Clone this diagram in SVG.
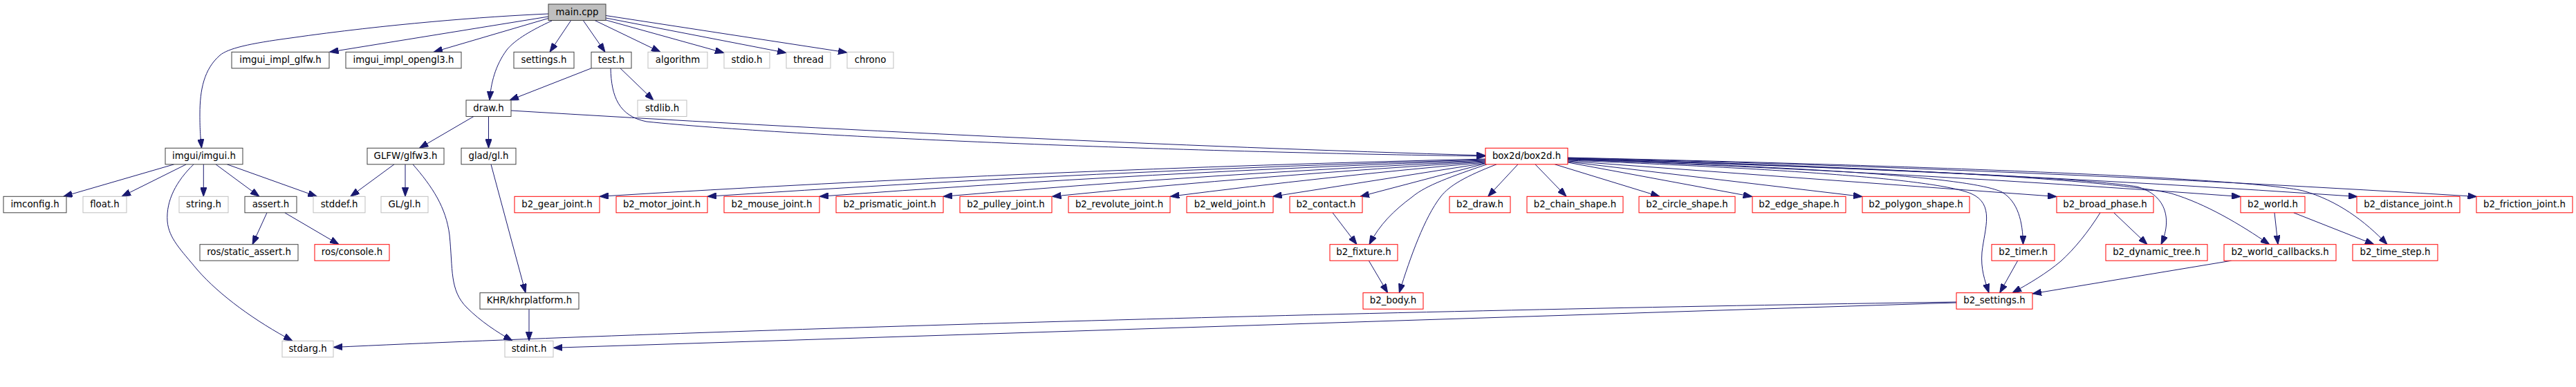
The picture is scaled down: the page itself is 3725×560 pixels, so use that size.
<svg xmlns="http://www.w3.org/2000/svg" width="3725" height="560" viewBox="0 0 3725 560">
<defs>
<style>
rect{fill:#ffffff;stroke:#404040;stroke-width:1}
.g rect{stroke:#bfbfbf}
.r rect{stroke:#ff0000}
.m rect{fill:#bfbfbf;stroke:#404040}
text{font-family:"DejaVu Sans","Liberation Sans",sans-serif;font-size:13.33px;text-anchor:middle;fill:#000000}
#edges path{fill:none;stroke:#191970;stroke-width:1;marker-end:url(#arr)}
</style>
<marker id="arr" viewBox="0 0 13 9.4" refX="13" refY="4.7" markerWidth="13" markerHeight="9.4" markerUnits="userSpaceOnUse" orient="auto">
<path d="M0,0 L13,4.7 L0,9.4 z" fill="#191970" stroke="#191970" stroke-width="1"/>
</marker>
</defs>
<rect x="0" y="0" width="3725" height="560" style="fill:#ffffff;stroke:none"/>
<g id="edges">
<path d="M793,20 C700,24 560,35 420,55 C360,63 330,70 318,80 C295,100 289,130 289,165 C289,190 290,200 291.5,214.3"/>
<path d="M793,24 L476.5,75.3"/>
<path d="M793,26.5 L627,75.3"/>
<path d="M798,30 C770,43 745,57 733,72 C716,95 710,120 708,145"/>
<path d="M825.7,29.5 L795,75.3"/>
<path d="M843.3,29.5 L875,75.3"/>
<path d="M860,29.5 L955,75.3"/>
<path d="M876,29 L1047,76.5"/>
<path d="M876,26 L1137,76.5"/>
<path d="M876,22.5 L1225,76"/>
<path d="M855,98.8 L737,145"/>
<path d="M897,98.8 L945,145"/>
<path d="M883,98.8 C884,140 895,168 935,176 C1150,198 1700,220 2148,226"/>
<path d="M739,160 C1200,188 1700,212 2148,225"/>
<path d="M685,168.5 L606.5,214.3"/>
<path d="M706.5,168.5 L706.5,214.3"/>
<path d="M251.7,237.8 L91.7,284.3"/>
<path d="M269.3,237.8 L176,284.3"/>
<path d="M294.3,237.8 L294.3,284.3"/>
<path d="M312,237.8 L375,284.3"/>
<path d="M328.3,237.8 L458.3,284.3"/>
<path d="M280,237.8 C255,262 240,290 242,320 C244,345 262,362 285,390 C318,428 370,465 423,493.3"/>
<path d="M386,307.8 L365,353.7"/>
<path d="M411.7,307.8 L490,353.7"/>
<path d="M570,237.8 L506.7,284.3"/>
<path d="M586,237.8 L586,284.3"/>
<path d="M597,237.8 C625,270 645,300 650,340 C655,390 650,420 675,445 C695,465 718,480 741,493.3"/>
<path d="M710,237.8 L760,423.7"/>
<path d="M765,447.2 L765,493.3"/>
<path d="M2829,437 C2000,449 1000,478 482.3,502.5"/>
<path d="M2829,438 L800.3,503.3"/>
<path d="M3226.7,377.2 L2939,425"/>
<path d="M2917.7,377.2 L2891.7,423.7"/>
<path d="M3037,307.8 C3020,335 3000,360 2980,378 C2960,395 2935,410 2910,423.7"/>
<path d="M3056.7,307.8 L3105,353.7"/>
<path d="M3289,307.8 L3294,353.7"/>
<path d="M3316.7,307.8 L3433,353.7"/>
<path d="M1927,307.8 L1962,353.7"/>
<path d="M1979.3,377.2 L2006.7,423.7"/>
<path d="M2148,230 C1721,240 1294,258 867,284.3"/>
<path d="M2148,231 C1773,241.7 1398,259.3 1023,284.3"/>
<path d="M2148,232 C1827,243.3 1506,260.7 1185,284.3"/>
<path d="M2148,233 C1886.7,245.1 1625.3,262.1 1364,284.3"/>
<path d="M2148,234 C1939.2,246.8 1730.3,263.4 1521.5,284.3"/>
<path d="M2148,235 C1996.1,248.5 1844.2,264.9 1692.3,284.3"/>
<path d="M2148,236 L1840.7,284.3"/>
<path d="M2148.3,236.5 L1967,284.3"/>
<path d="M2150,237.8 C2100,255 2062,268 2042,285 C2015,305 1995,325 1980,353.7"/>
<path d="M2164,237.8 C2120,255 2096,268 2083,285 C2060,315 2040,370 2023.3,423.7"/>
<path d="M2195,237.8 L2151.7,284.3"/>
<path d="M2220,237.8 L2265,284.3"/>
<path d="M2248.3,237.8 L2400,284.3"/>
<path d="M2267,235 L2533.7,284.5"/>
<path d="M2267,234 L2693,284.5"/>
<path d="M2267,233 L2974,284.5"/>
<path d="M2267,232 C2600,245 2800,260 2850,280 C2885,295 2870,330 2866,365 C2864,390 2870,405 2876,423.7"/>
<path d="M2267,231 C2600,241 2850,256 2895,278 C2918,292 2925,320 2925.5,353.7"/>
<path d="M2267,230 C2700,243 3000,256 3090,270 C3135,283 3140,320 3125,353.7"/>
<path d="M2267,229 C2700,241 3050,259 3140,280 C3190,295 3240,325 3281.7,353.7"/>
<path d="M2267,230.5 C2591,242.8 2915.7,260.7 3240,284.5"/>
<path d="M2267,229.5 C2648,240.6 3029,258.7 3409,284.5"/>
<path d="M2267,228.5 C2705,238.8 3143,257.3 3581.5,284.5"/>
<path d="M2267,228 C2800,240 3250,258 3330,276 C3380,290 3420,320 3452,353.7"/>
</g>
<g id="main_cpp" class="m"><rect x="793" y="6" width="83" height="23.5"/><text x="834.5" y="21.7">main.cpp</text></g>
<g id="imgui_impl_glfw_h"><rect x="335" y="75.3" width="141" height="23.5"/><text x="405.5" y="91">imgui_impl_glfw.h</text></g>
<g id="imgui_impl_opengl3_h"><rect x="500" y="75.3" width="167" height="23.5"/><text x="583.5" y="91">imgui_impl_opengl3.h</text></g>
<g id="settings_h"><rect x="743" y="75.3" width="87" height="23.5"/><text x="786.5" y="91">settings.h</text></g>
<g id="test_h"><rect x="855" y="75.3" width="58" height="23.5"/><text x="884" y="91">test.h</text></g>
<g id="algorithm" class="g"><rect x="937" y="75.3" width="86" height="23.5"/><text x="980" y="91">algorithm</text></g>
<g id="stdio_h" class="g"><rect x="1047" y="75.3" width="66" height="23.5"/><text x="1080" y="91">stdio.h</text></g>
<g id="thread" class="g"><rect x="1137" y="75.3" width="64" height="23.5"/><text x="1169" y="91">thread</text></g>
<g id="chrono" class="g"><rect x="1225" y="75.3" width="67" height="23.5"/><text x="1258.5" y="91">chrono</text></g>
<g id="draw_h"><rect x="674" y="145" width="65" height="23.5"/><text x="706.5" y="160.7">draw.h</text></g>
<g id="stdlib_h" class="g"><rect x="922" y="145" width="71" height="23.5"/><text x="957.5" y="160.7">stdlib.h</text></g>
<g id="imgui_imgui_h"><rect x="239" y="214.3" width="112" height="23.5"/><text x="295" y="230">imgui/imgui.h</text></g>
<g id="GLFW_glfw3_h"><rect x="531" y="214.3" width="111" height="23.5"/><text x="586.5" y="230">GLFW/glfw3.h</text></g>
<g id="glad_gl_h"><rect x="667" y="214.3" width="79" height="23.5"/><text x="706.5" y="230">glad/gl.h</text></g>
<g id="box2d_box2d_h" class="r"><rect x="2148" y="214.3" width="119" height="23.5"/><text x="2207.5" y="230">box2d/box2d.h</text></g>
<g id="imconfig_h"><rect x="5" y="284.3" width="91" height="23.5"/><text x="50.5" y="300">imconfig.h</text></g>
<g id="float_h" class="g"><rect x="120" y="284.3" width="63" height="23.5"/><text x="151.5" y="300">float.h</text></g>
<g id="string_h" class="g"><rect x="259" y="284.3" width="71" height="23.5"/><text x="294.5" y="300">string.h</text></g>
<g id="assert_h"><rect x="354" y="284.3" width="75" height="23.5"/><text x="391.5" y="300">assert.h</text></g>
<g id="stddef_h" class="g"><rect x="453" y="284.3" width="75" height="23.5"/><text x="490.5" y="300">stddef.h</text></g>
<g id="GL_gl_h" class="g"><rect x="551" y="284.3" width="68" height="23.5"/><text x="585" y="300">GL/gl.h</text></g>
<g id="b2_gear_joint_h" class="r"><rect x="744" y="284.3" width="123" height="23.5"/><text x="805.5" y="300">b2_gear_joint.h</text></g>
<g id="b2_motor_joint_h" class="r"><rect x="891" y="284.3" width="132" height="23.5"/><text x="957" y="300">b2_motor_joint.h</text></g>
<g id="b2_mouse_joint_h" class="r"><rect x="1047" y="284.3" width="138" height="23.5"/><text x="1116" y="300">b2_mouse_joint.h</text></g>
<g id="b2_prismatic_joint_h" class="r"><rect x="1209" y="284.3" width="155" height="23.5"/><text x="1286.5" y="300">b2_prismatic_joint.h</text></g>
<g id="b2_pulley_joint_h" class="r"><rect x="1388" y="284.3" width="133" height="23.5"/><text x="1454.5" y="300">b2_pulley_joint.h</text></g>
<g id="b2_revolute_joint_h" class="r"><rect x="1545" y="284.3" width="147" height="23.5"/><text x="1618.5" y="300">b2_revolute_joint.h</text></g>
<g id="b2_weld_joint_h" class="r"><rect x="1716" y="284.3" width="125" height="23.5"/><text x="1778.5" y="300">b2_weld_joint.h</text></g>
<g id="b2_contact_h" class="r"><rect x="1865" y="284.3" width="105" height="23.5"/><text x="1917.5" y="300">b2_contact.h</text></g>
<g id="b2_draw_h" class="r"><rect x="2096" y="284.3" width="88" height="23.5"/><text x="2140" y="300">b2_draw.h</text></g>
<g id="b2_chain_shape_h" class="r"><rect x="2208" y="284.3" width="139" height="23.5"/><text x="2277.5" y="300">b2_chain_shape.h</text></g>
<g id="b2_circle_shape_h" class="r"><rect x="2370" y="284.3" width="139" height="23.5"/><text x="2439.5" y="300">b2_circle_shape.h</text></g>
<g id="b2_edge_shape_h" class="r"><rect x="2534" y="284.3" width="135" height="23.5"/><text x="2601.5" y="300">b2_edge_shape.h</text></g>
<g id="b2_polygon_shape_h" class="r"><rect x="2693" y="284.3" width="155" height="23.5"/><text x="2770.5" y="300">b2_polygon_shape.h</text></g>
<g id="b2_broad_phase_h" class="r"><rect x="2974" y="284.3" width="140" height="23.5"/><text x="3044" y="300">b2_broad_phase.h</text></g>
<g id="b2_world_h" class="r"><rect x="3240" y="284.3" width="93" height="23.5"/><text x="3286.5" y="300">b2_world.h</text></g>
<g id="b2_distance_joint_h" class="r"><rect x="3408" y="284.3" width="149" height="23.5"/><text x="3482.5" y="300">b2_distance_joint.h</text></g>
<g id="b2_friction_joint_h" class="r"><rect x="3581" y="284.3" width="139" height="23.5"/><text x="3650.5" y="300">b2_friction_joint.h</text></g>
<g id="ros_static_assert_h"><rect x="289" y="353.7" width="142" height="23.5"/><text x="360" y="369.4">ros/static_assert.h</text></g>
<g id="ros_console_h" class="r"><rect x="455" y="353.7" width="108" height="23.5"/><text x="509" y="369.4">ros/console.h</text></g>
<g id="b2_fixture_h" class="r"><rect x="1923" y="353.7" width="98" height="23.5"/><text x="1972" y="369.4">b2_fixture.h</text></g>
<g id="b2_timer_h" class="r"><rect x="2880" y="353.7" width="91" height="23.5"/><text x="2925.5" y="369.4">b2_timer.h</text></g>
<g id="b2_dynamic_tree_h" class="r"><rect x="3045" y="353.7" width="147" height="23.5"/><text x="3118.5" y="369.4">b2_dynamic_tree.h</text></g>
<g id="b2_world_callbacks_h" class="r"><rect x="3216" y="353.7" width="162" height="23.5"/><text x="3297" y="369.4">b2_world_callbacks.h</text></g>
<g id="b2_time_step_h" class="r"><rect x="3402" y="353.7" width="123" height="23.5"/><text x="3463.5" y="369.4">b2_time_step.h</text></g>
<g id="KHR_khrplatform_h"><rect x="694" y="423.7" width="143" height="23.5"/><text x="765.5" y="439.4">KHR/khrplatform.h</text></g>
<g id="b2_body_h" class="r"><rect x="1971" y="423.7" width="87" height="23.5"/><text x="2014.5" y="439.4">b2_body.h</text></g>
<g id="b2_settings_h" class="r"><rect x="2829" y="423.7" width="110" height="23.5"/><text x="2884" y="439.4">b2_settings.h</text></g>
<g id="stdarg_h" class="g"><rect x="408" y="493.3" width="74" height="23.5"/><text x="445" y="509">stdarg.h</text></g>
<g id="stdint_h" class="g"><rect x="730" y="493.3" width="70" height="23.5"/><text x="765" y="509">stdint.h</text></g>
</svg>
